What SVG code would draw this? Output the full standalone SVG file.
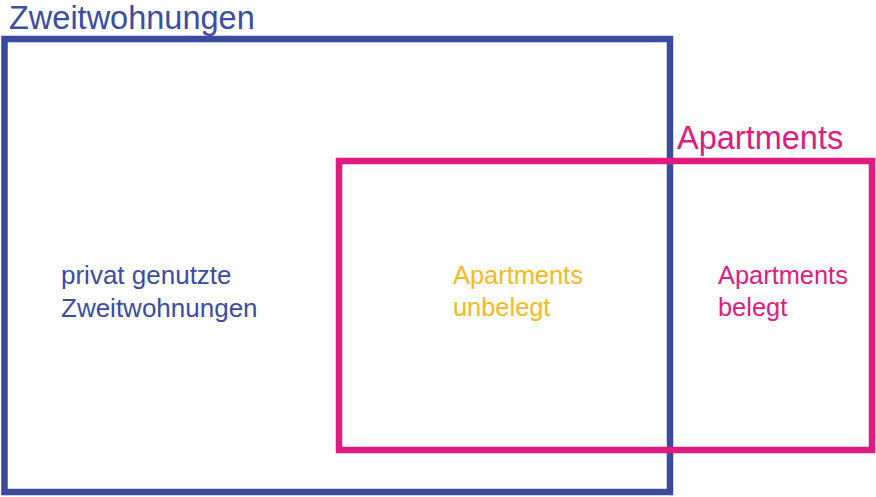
<svg xmlns="http://www.w3.org/2000/svg" width="876" height="497" viewBox="0 0 876 497">
<style>
.frame{fill:none;stroke-width:6.5}
.blue{stroke:#3a4a9e}
.pink{stroke:#e01b7f}
.t{font-family:"Liberation Sans",Arial,sans-serif}
.title{font-size:32.5px}
.lbl{font-size:25.4px}
</style>
<rect x="0" y="0" width="876" height="497" fill="#ffffff"/>
<g id="zweitwohnungen">
<rect class="frame blue" x="4.5" y="39" width="665.5" height="453"/>
<text class="t title" x="9" y="28.5" fill="#3a4ca6">Zweitwohnungen</text>
</g>
<g id="apartments">
<rect class="frame pink" x="339" y="161" width="533" height="289"/>
<text class="t title" x="677" y="149" fill="#e01b7f">Apartments</text>
</g>
<g id="privat">
<text class="t lbl" fill="#3a4ca6" style="font-size:26px"><tspan x="61" y="284">privat genutzte</tspan><tspan x="61" y="316.5">Zweitwohnungen</tspan></text>
</g>
<g id="unbelegt">
<text class="t lbl" fill="#f9b81c"><tspan x="453" y="284">Apartments</tspan><tspan x="453" y="316">unbelegt</tspan></text>
</g>
<g id="belegt">
<text class="t lbl" fill="#e01b7f"><tspan x="718" y="284">Apartments</tspan><tspan x="718" y="316">belegt</tspan></text>
</g>
<g id="connectors"></g>
</svg>
